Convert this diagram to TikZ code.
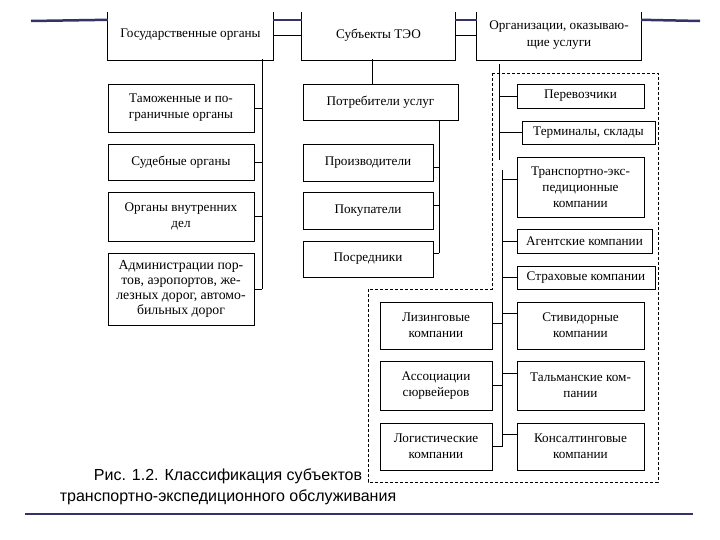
\documentclass[tikz,border=0pt]{standalone}
\usepackage{fontspec}
\setmainfont{Liberation Serif}
\newfontfamily\capfont{Liberation Sans}
\definecolor{slideblue}{RGB}{51,51,102}
\tikzset{
	head node/.style={rectangle, inner sep=0, align=center, font=\fontsize{13.2}{17}\selectfont},
	org node/.style={rectangle, draw, line width=0.9pt, inner sep=0, align=center, font=\fontsize{13.2}{16}\selectfont},
	link/.style={line width=0.9pt},
	slide line/.style={slideblue, line width=2.5pt},
}

\begin{document}
\begin{tikzpicture}[x=1pt, y=-1pt]
\useasboundingbox (0,0) rectangle (720,540);

% top row
\node (gos)[head node, minimum width=165, minimum height=48] at (190.5,35) {Государственные органы};
\node (subj)[head node, minimum width=153, minimum height=48] at (378.5,35) {Субъекты ТЭО};
\node (org)[head node, minimum width=164, minimum height=48] at (559,35) {Организации, оказываю-\\щие услуги};
\foreach \n in {gos,subj,org}
  \draw[link] ([yshift=-1pt]\n.north west) -- ([yshift=-1pt]\n.south west) -- ([yshift=-1pt]\n.south east) -- ([yshift=-1pt]\n.north east);
\coordinate (lend) at (31,21);
\coordinate (rend) at (700,21);
\draw[slide line] (lend) -- ([yshift=-9pt]gos.north west);
\draw[slide line] ([yshift=-9pt]gos.north east) -- ([yshift=-9pt]subj.north west);
\draw[slide line] ([yshift=-9pt]subj.north east) -- ([yshift=-9pt]org.north west);
\draw[slide line] ([yshift=-9pt]org.north east) -- (rend);
\draw[link] (gos.east) -- (subj.west);
\draw[link] (subj.east) -- (org.west);

% left column
\node (tam)[org node, minimum width=146, minimum height=48] at (181,108) {Таможенные и по-\\граничные органы};
\node (sud)[org node, minimum width=146, minimum height=36] at (181,162) {Судебные органы};
\node (ovd)[org node, minimum width=146, minimum height=49] at (181,216.5) {Органы внутренних\\дел};
\node (adm)[org node, minimum width=146, minimum height=72, font=\fontsize{13.8}{15.2}\selectfont] at (181,289) {Администрации пор-\\тов, аэропортов, же-\\лезных дорог, автомо-\\бильных дорог};
\coordinate (ltrunk) at (262,0);
\draw[link] (gos.south -| ltrunk) -- (adm.east -| ltrunk);
\foreach \n in {tam,sud,ovd,adm}
  \draw[link] (\n.east) -- (\n.east -| ltrunk);

% middle column
\node (potr)[org node, minimum width=155, minimum height=36] at (380.5,102) {Потребители услуг};
\node (proizv)[org node, minimum width=130, minimum height=37] at (368,162.5) {Производители};
\node (pokup)[org node, minimum width=130, minimum height=37] at (368,210.5) {Покупатели};
\node (posr)[org node, minimum width=130, minimum height=36] at (368,259) {Посредники};
\draw[link] ([xshift=-6pt]subj.south) -- ([xshift=-6pt]subj.south |- potr.north);
\coordinate (mtrunk) at (439,0);
\draw[link] (potr.south -| mtrunk) -- ([yshift=6pt]posr.east -| mtrunk);
\foreach \n/\s in {proizv/-5, pokup/5, posr/6}
  \draw[link] ([yshift=\s pt]\n.east) -- ([yshift=\s pt]\n.east -| mtrunk);

% right part
\draw[dashed, dash pattern=on 3pt off 2pt, line width=0.7pt] (492,73) -- (658,73) -- (658,482) -- (368,482) -- (368,289) -- (492,289) -- cycle;
\node (perev)[org node, minimum width=127, minimum height=24] at (580.5,96) {Перевозчики};
\node (term)[org node, minimum width=133, minimum height=23] at (588.5,132.5) {Терминалы, склады};
\node (tek)[org node, minimum width=127, minimum height=60] at (580.5,187) {Транспортно-экс-\\педиционные\\компании};
\node (agent)[org node, minimum width=135, minimum height=24] at (584.5,241) {Агентские компании};
\node (strah)[org node, minimum width=138, minimum height=23] at (586,277.5) {Страховые компании};
\node (stiv)[org node, minimum width=127, minimum height=47] at (580.5,325.5) {Стивидорные\\компании};
\node (talm)[org node, minimum width=127, minimum height=49] at (580.5,385.5) {Тальманские ком-\\пании};
\node (kons)[org node, minimum width=127, minimum height=47] at (580.5,446.5) {Консалтинговые\\компании};
\node (liz)[org node, minimum width=112, minimum height=47] at (436,325.5) {Лизинговые\\компании};
\node (assoc)[org node, minimum width=112, minimum height=49] at (436,385.5) {Ассоциации\\сюрвейеров};
\node (logist)[org node, minimum width=112, minimum height=47] at (436,446.5) {Логистические\\компании};
\coordinate (rtrunkA) at (499,0);
\coordinate (rtrunkB) at (502,0);
\coordinate (gapA) at (499,160);
\coordinate (gapB) at (502,170);
\draw[link] ([yshift=-5pt]org.south -| rtrunkA) -- (gapA);
\draw[link] (gapB) -- (logist.east -| rtrunkB);
\foreach \n in {perev,term}
  \draw[link] (\n.west) -- (\n.west -| rtrunkA);
\foreach \n/\s in {tek/8, agent/0, strah/0, stiv/12, talm/12, kons/12}
  \draw[link] ([yshift=\s pt]\n.west) -- ([yshift=\s pt]\n.west -| rtrunkB);
\foreach \n/\s in {liz/2, assoc/0, logist/0}
  \draw[link] ([yshift=\s pt]\n.east) -- ([yshift=\s pt]\n.east -| rtrunkB);

% caption
\node (cap)[font=\capfont\fontsize{16}{21}\selectfont, align=center] at (228,487) {Рис. 1.2. Классификация субъектов\\транспортно-экспедиционного обслуживания};
\coordinate (bl1) at (25,514);
\coordinate (bl2) at (693,514);
\draw[slide line] (bl1) -- (bl2);
\end{tikzpicture}
\end{document}
